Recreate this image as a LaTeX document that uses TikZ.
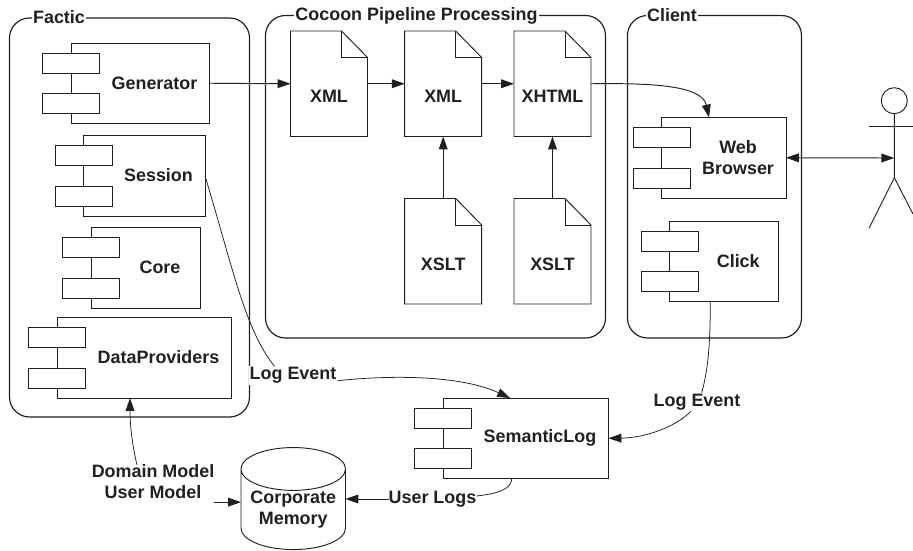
\documentclass[tikz,border=0pt]{standalone}
\usepackage{fontspec}
\setmainfont{Liberation Sans}
\usetikzlibrary{arrows.meta,shapes.geometric,calc}
\definecolor{inkcolor}{HTML}{231F20}
\newcommand{\pxunit}{0.03cm}
\newcommand{\component}[5]{
    \node[compbody, minimum width=#4*\pxunit] (#1) at (#2,#3) {};
    \node[comptab] (#1tabone) at ($(#1.north west)+(-28.5,10)$) {};
    \node[comptab] (#1tabtwo) at ($(#1.north west)+(-28.5,50.5)$) {};
    \node (#1label) at ({#2+(#4+28.5)/2},{#3+40}) {#5};
}
\newcommand{\docfile}[4]{
    \node[docbody] (#1) at (#2,#3) {};
    \draw[line join=miter] (#1.north west) -- ++(51,0) -- ++(26,26.5) -- (#1.south east) -- (#1.south west) -- cycle;
    \draw ($(#1.north west)+(51,0)$) -- ++(0,26.5) -- ++(26,0);
    \node (#1label) at ({#2+38.5},{#3+65.5}) {#4};
}
\begin{document}
\begin{tikzpicture}[x=\pxunit, y=-\pxunit, draw=inkcolor, text=inkcolor, line width=0.8pt,
        every node/.style={font=\bfseries\fontsize{15.3}{18}\selectfont, align=center, inner sep=0pt, outer sep=0pt},
        box/.style={draw, line width=1pt, rounded corners=0.6cm},
        boxtitle/.style={fill=white, inner sep=1pt},
        compbody/.style={draw, anchor=north west, minimum height=80.5*\pxunit},
        comptab/.style={draw, fill=white, anchor=north west, minimum width=57*\pxunit, minimum height=20*\pxunit},
        docbody/.style={anchor=north west, minimum width=77*\pxunit, minimum height=105.5*\pxunit},
        flow/.style={-{Triangle[length=11pt,width=7.5pt]}},
        wire/.style={line width=0.65pt}]
    \useasboundingbox (0,0) rectangle (913,550);

    \draw[box] (9.5,18) rectangle (249.5,417);
    \draw[box] (265.5,15.5) rectangle (605.5,338);
    \draw[box] (627.5,15.5) rectangle (801.5,338);
    \node[boxtitle] (factic) at (59,17.5) {Factic};
    \node[boxtitle] (cocoon) at (416.5,15.5) {Cocoon Pipeline Processing};
    \node[boxtitle] (client) at (672,15.5) {Client};

    \component{generator}{71}{43}{138.5}{Generator}
    \component{session}{83.5}{135.5}{121.5}{Session}
    \component{core}{91}{227.5}{109.5}{Core}
    \component{providers}{57}{317.5}{174.5}{DataProviders}
    \component{browser}{661.7}{117.5}{124.3}{Web\\Browser}
    \component{click}{669.5}{221}{109}{Click}
    \component{semlog}{443}{398}{165.5}{SemanticLog}

    \docfile{xmlone}{290.5}{31}{XML}
    \docfile{xmltwo}{404.7}{31}{XML}
    \docfile{xhtml}{514}{31}{XHTML}
    \docfile{xsltone}{404.7}{198.5}{XSLT}
    \docfile{xslttwo}{514}{198.5}{XSLT}

    \node[cylinder, draw, shape border rotate=90, aspect=0.5, minimum width=104.5*\pxunit, minimum height=102*\pxunit] (memory) at (293.25,509.5) {Corporate\\Memory};

    \node[fill=white, inner sep=1pt] (logfactic) at (293,375.5) {Log Event};
    \node[fill=white, inner sep=1pt] (logclient) at (697,402) {Log Event};
    \node (models) at (153,482) {Domain Model\\User Model};
    \node (logs) at (432.5,499) {User Logs};
    \coordinate (modelsout) at ($(models.south east)+(0,3)$);

    \node[circle, draw, minimum size=26*\pxunit] (actor) at (894.3,100.7) {};
    \coordinate (actorhand) at (894.3,158);
    \draw (actor.south) -- (894.3,177.7) -- (869,228.3);
    \draw (894.3,177.7) -- (913,214);
    \draw (869,126.3) -- (913,126.3);

    \draw[flow] (generator.east) -- (xmlone.west);
    \draw[flow] (xmlone.east) -- (xmltwo.west);
    \draw[flow] (xmltwo.east) -- (xhtml.west);
    \draw[flow] (xsltone.north) -- (xmltwo.south);
    \draw[flow] (xslttwo.north) -- (xhtml.south);
    \draw[flow] (xhtml.east) .. controls (650,83) and (702,85) .. ($(browser.north)+(-14.8,0)$);
    \draw[{Triangle[length=11pt,width=7.5pt]}-{Triangle[length=11pt,width=7.5pt]}] (browser.east) -- (actorhand);

    \draw[wire] (session.east) .. controls (232,265) and (245,330) .. ($(logfactic.north west)+(26,0)$);
    \draw[flow, wire] ($(logfactic.south east)+(0,-4)$) .. controls (390,375) and (460,375) .. ($(semlog.north)+(-15.7,0)$);
    \draw[wire] ($(click.south)+(-13.7,0)$) .. controls (710.3,345) and (708,370) .. ($(logclient.north)+(4.7,0)$);
    \draw[flow, wire] ($(logclient.south)+(-6,0)$) .. controls (672,430) and (640,438) .. (semlog.east);
    \draw[flow, wire] ($(models.north)+(-16,0)$) .. controls (131,440) and (130,420) .. ($(providers.south)+(-14.25,0)$);
    \draw[flow] (modelsout) -- (modelsout -| memory.west);
    \draw[flow] (logs.west) -- (logs.west -| memory.east);
    \draw[wire] ($(semlog.south)+(-14,0)$) .. controls (511.7,490) and (495,494) .. ($(logs.east)+(0,-3)$);
\end{tikzpicture}
\end{document}
